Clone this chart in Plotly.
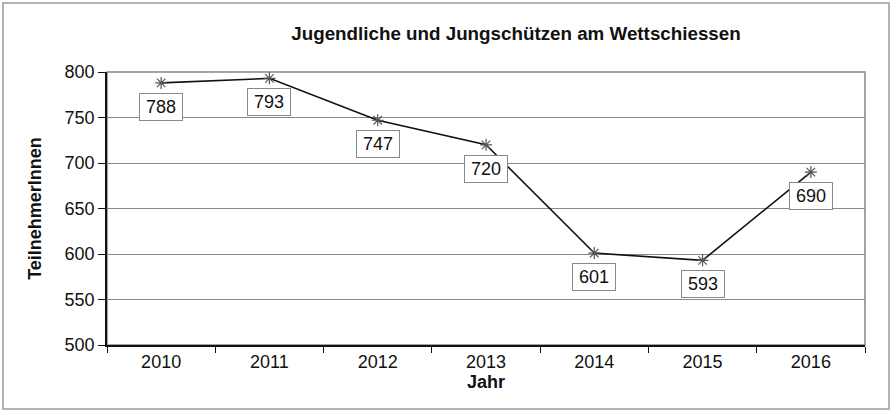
import plotly.graph_objects as go

years = ["2010", "2011", "2012", "2013", "2014", "2015", "2016"]
participants = [788, 793, 747, 720, 601, 593, 690]

L, R, T, B = 107, 27, 72, 67
W, H = 892, 412
pw, ph = W - L - R, H - T - B
FONT = "Liberation Sans, Arial, Helvetica"

fig = go.Figure()
fig.add_trace(go.Scatter(
    x=years, y=participants, mode="lines+markers",
    line=dict(color="#111111", width=1.6),
    marker=dict(symbol="asterisk-open", size=10, color="#555555", line=dict(color="#555555", width=1.2)),
    showlegend=False, hoverinfo="skip"))

for i, y in enumerate(participants):
    fig.add_annotation(x=i, y=y, text=str(y), showarrow=False, yshift=-24,
                       width=42, height=26, align="center", valign="middle",
                       font=dict(family=FONT, size=18, color="#111111"),
                       bgcolor="white", bordercolor="#888888", borderwidth=1, borderpad=0)

# outer chart border
fig.add_shape(type="rect", xref="paper", yref="paper",
              x0=(3 - L) / pw, x1=(889 - L) / pw, y0=(H - B - 409) / ph, y1=(H - B - 3) / ph,
              line=dict(color="#999999", width=1.5), layer="below")
# plot area border
fig.add_shape(type="rect", xref="paper", yref="paper", x0=0, x1=1, y0=0, y1=1,
              line=dict(color="#888888", width=1.5), layer="below")

fig.update_layout(
    width=W, height=H, margin=dict(l=L, r=R, t=T, b=B),
    paper_bgcolor="white", plot_bgcolor="white",
    font=dict(family=FONT, color="#111111"),
    title=dict(text="<b>Jugendliche und Jungschützen am Wettschiessen</b>",
               x=(516) / W, xanchor="center", y=1 - 33 / H, yanchor="middle",
               font=dict(size=18.8, color="#111111")),
)
fig.update_xaxes(type="category", range=[-0.5, len(years) - 0.5], tickson="boundaries",
                 ticks="outside", ticklen=6,
                 tickcolor="#111111", showline=True, linecolor="#111111", linewidth=1.5,
                 showgrid=False, tickfont=dict(size=18),
                 title=dict(text="<b>Jahr</b>", font=dict(size=18), standoff=2))
fig.update_yaxes(range=[500, 800], dtick=50, ticks="outside", ticklen=7, tickcolor="#111111",
                 showline=True, linecolor="#111111", linewidth=1.5,
                 showgrid=True, gridcolor="#888888", gridwidth=1.2, zeroline=False,
                 tickfont=dict(size=18),
                 title=dict(text="<b>TeilnehmerInnen</b>", font=dict(size=18), standoff=18))

fig.write_html("out.html", config={"displayModeBar": False},
               post_script="document.body.style.margin='0';document.body.style.overflow='hidden';")
